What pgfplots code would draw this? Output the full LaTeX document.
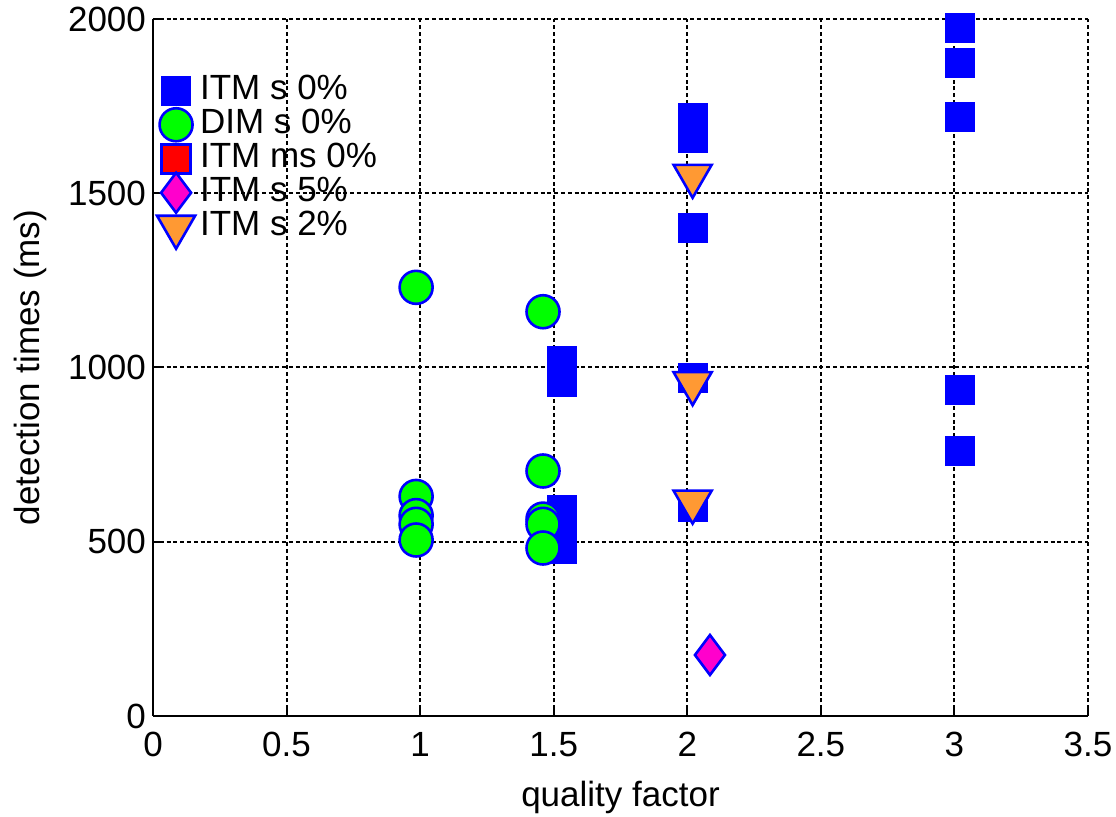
\documentclass[border=0pt]{standalone}
\usepackage{fontspec}
\setmainfont{Liberation Sans}
\usepackage{pgfplots}
\pgfplotsset{compat=1.18}

\definecolor{mblue}{RGB}{0,0,255}
\definecolor{mgreen}{RGB}{0,255,0}
\definecolor{mred}{RGB}{255,0,0}
\definecolor{mmagenta}{RGB}{255,0,204}
\definecolor{morange}{RGB}{255,153,51}

\begin{document}
\begin{tikzpicture}
\begin{axis}[
  scale only axis, width=467.5pt, height=348.5pt,
  xmin=0, xmax=3.5, ymin=0, ymax=2000,
  xtick={0,0.5,1,1.5,2,2.5,3,3.5},
  ytick={0,500,1000,1500,2000},
  axis lines*=left,
  axis line style={line width=1pt},
  tick align=inside, major tick length=4pt,
  tick style={black, line width=1pt},
  grid=major,
  major grid style={black, line width=1pt, dash pattern=on 2pt off 1.4pt},
  clip=false,
  font=\fontsize{17.5}{21}\selectfont,
  /pgf/number format/assume math mode=true,
  /pgf/number format/1000 sep={},
  xticklabel style={yshift=-4.5pt},
  xlabel={quality factor},
  ylabel={detection times (ms)},
  xlabel style={at={(axis description cs:0.5,0)}, anchor=center, yshift=-40.5pt},
  ylabel style={at={(axis description cs:-0.1316,0.5)}, anchor=center},
  legend cell align=left,
  % fixed-size legend cells so that every row has the same pitch
  legend image code/.code={%
    \path[draw=none, fill=none] (-9pt,-8.5pt) rectangle (11pt,8.5pt);
    \draw[overlay,#1] plot coordinates {(0pt,0pt)};},
  legend style={at={(rel axis cs:0.005,0.922)}, anchor=north west,
    draw=none, fill=none, inner sep=0pt, row sep=0pt,
    nodes={inner sep=1pt, text height=8.5pt, text depth=0pt}},
]
% ITM s 0%
\addplot[only marks, mark=square*, mark size=7.25pt,
  mark options={fill=mblue, draw=mblue, line width=0.4pt}] coordinates {
  (1.53,1020) (1.53,990) (1.53,960) (1.53,590) (1.53,550) (1.53,515) (1.53,480)
  (2.02,1715) (2.02,1690) (2.02,1660) (2.02,1400) (2.02,970) (2.02,600)
  (3.02,1975) (3.02,1875) (3.02,1720) (3.02,935) (3.02,760)
};
\addlegendentry{ITM s 0\%}
% DIM s 0%
\addplot[only marks, mark=*, mark size=8.25pt,
  mark options={fill=mgreen, draw=mblue, line width=1.3pt}] coordinates {
  (0.985,1230) (0.985,630) (0.985,575) (0.985,550) (0.985,505)
  (1.46,1160) (1.46,703) (1.46,565) (1.46,550) (1.46,482)
};
\addlegendentry{DIM s 0\%}
% ITM ms 0% (no points)
\addlegendimage{only marks, mark=square*, mark size=7.25pt,
  mark options={fill=mred, draw=mblue, line width=1.3pt}}
\addlegendentry{ITM ms 0\%}
% ITM s 5%
\addplot[only marks, mark=diamond*, mark size=10pt,
  mark options={fill=mmagenta, draw=mblue, line width=1.3pt}] coordinates {
  (2.085,175)
};
\addlegendentry{ITM s 5\%}
% ITM s 2%
\addplot[only marks, mark=triangle*, mark size=11pt,
  mark options={fill=morange, draw=mblue, line width=1.3pt, rotate=180}] coordinates {
  (2.02,1550) (2.02,955) (2.02,615)
};
\addlegendentry{ITM s 2\%}
\end{axis}
\pgfresetboundingbox
\path[use as bounding box] (-76.5pt,-50.5pt) rectangle (481.5pt,358pt);
\end{tikzpicture}
\end{document}
